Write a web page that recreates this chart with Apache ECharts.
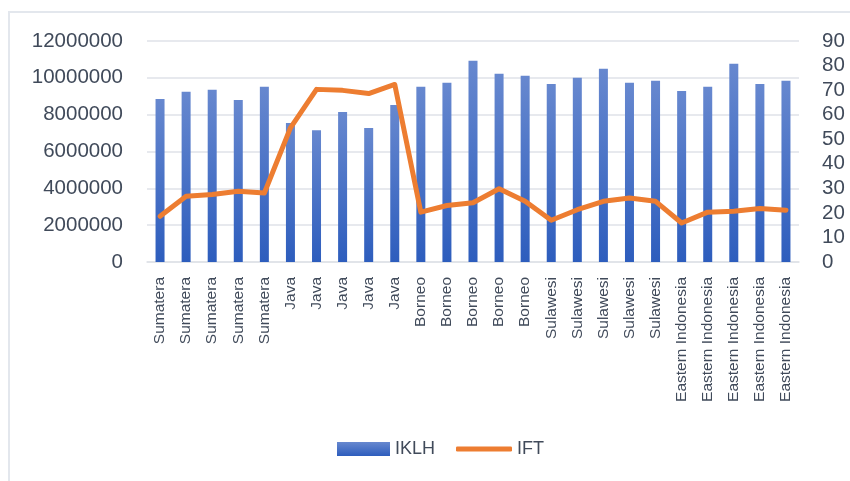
<!DOCTYPE html>
<html>
<head>
<meta charset="utf-8">
<script src="https://cdn.jsdelivr.net/npm/echarts@6/dist/echarts.min.js"></script>
<style>
  html, body { margin: 0; padding: 0; background: #fff; }
  #maindiv { width: 850px; height: 481px; }
</style>
</head>
<body>
<div id="maindiv"></div>
<script>
// regions for each observation
const categories = [
  'Sumatera', 'Sumatera', 'Sumatera', 'Sumatera', 'Sumatera',
  'Java', 'Java', 'Java', 'Java', 'Java',
  'Borneo', 'Borneo', 'Borneo', 'Borneo', 'Borneo',
  'Sulawesi', 'Sulawesi', 'Sulawesi', 'Sulawesi', 'Sulawesi',
  'Eastern Indonesia', 'Eastern Indonesia', 'Eastern Indonesia', 'Eastern Indonesia', 'Eastern Indonesia'
];

const ikLH = [
  8850000, 9240000, 9350000, 8800000, 9510000,
  7550000, 7160000, 8150000, 7270000, 8530000,
  9510000, 9730000, 10930000, 10220000, 10110000,
  9670000, 10000000, 10490000, 9730000, 9840000,
  9290000, 9510000, 10760000, 9670000, 9840000
];

const ift = [
  18.6, 26.8, 27.5, 28.8, 28.1,
  54.6, 70.3, 69.9, 68.6, 72.3,
  20.3, 23.0, 24.1, 29.8, 24.7,
  17.0, 21.3, 24.7, 26.1, 24.7,
  15.9, 20.3, 20.7, 21.8, 21.1
];

const textColor = '#404a5a';
const gridColor = '#dfe2e8';
const font = 'Liberation Sans';

const myChart = echarts.init(document.getElementById('maindiv'));

const legendText = { color: textColor, fontSize: 18, fontFamily: font };

const option = {
  animation: false,
  backgroundColor: '#fff',
  grid: { left: 147, right: 51, top: 41, bottom: 219 },
  graphic: [{
    type: 'rect',
    shape: { x: 9, y: 12, width: 900, height: 500 },
    style: { fill: 'none', stroke: '#e3e7ed', lineWidth: 2 },
    silent: true
  }],
  // two legends so each key can have its own icon size
  legend: [
    {
      left: 337,
      top: 440,
      padding: 0,
      itemWidth: 53,
      itemHeight: 14,
      itemGap: 6,
      selectedMode: false,
      textStyle: legendText,
      data: [{ name: 'IKLH', icon: 'rect' }]
    },
    {
      left: 456,
      top: 440,
      padding: 0,
      itemWidth: 56,
      itemHeight: 5,
      selectedMode: false,
      textStyle: legendText,
      data: [{ name: 'IFT', icon: 'roundRect' }]
    }
  ],
  xAxis: {
    type: 'category',
    data: categories,
    axisTick: { show: false },
    axisLine: { lineStyle: { color: gridColor, width: 1.5 } },
    axisLabel: {
      interval: 0,
      rotate: 90,
      margin: 15,
      color: textColor,
      fontSize: 15.5,
      fontFamily: font
    }
  },
  yAxis: [
    {
      type: 'value',
      min: 0,
      max: 12000000,
      interval: 2000000,
      axisLine: { show: false },
      axisTick: { show: false },
      splitLine: { lineStyle: { color: gridColor, width: 1.5 } },
      axisLabel: {
        color: textColor, fontSize: 20.5, fontFamily: font, margin: 24,
        formatter: (v) => String(v)
      }
    },
    {
      type: 'value',
      min: 0,
      max: 90,
      interval: 10,
      axisLine: { show: false },
      axisTick: { show: false },
      splitLine: { show: false },
      axisLabel: { color: textColor, fontSize: 20.5, fontFamily: font, margin: 23 }
    }
  ],
  series: [
    {
      name: 'IKLH',
      type: 'bar',
      barWidth: 9,
      itemStyle: {
        color: new echarts.graphic.LinearGradient(0, 0, 0, 1, [
          { offset: 0, color: '#6788cf' },
          { offset: 1, color: '#2d5dbd' }
        ])
      },
      data: ikLH
    },
    {
      name: 'IFT',
      type: 'line',
      yAxisIndex: 1,
      symbol: 'none',
      lineStyle: { color: '#ed7d31', width: 5, cap: 'round', join: 'round' },
      itemStyle: { color: '#ed7d31' },
      data: ift
    }
  ]
};

myChart.setOption(option);
</script>
</body>
</html>
